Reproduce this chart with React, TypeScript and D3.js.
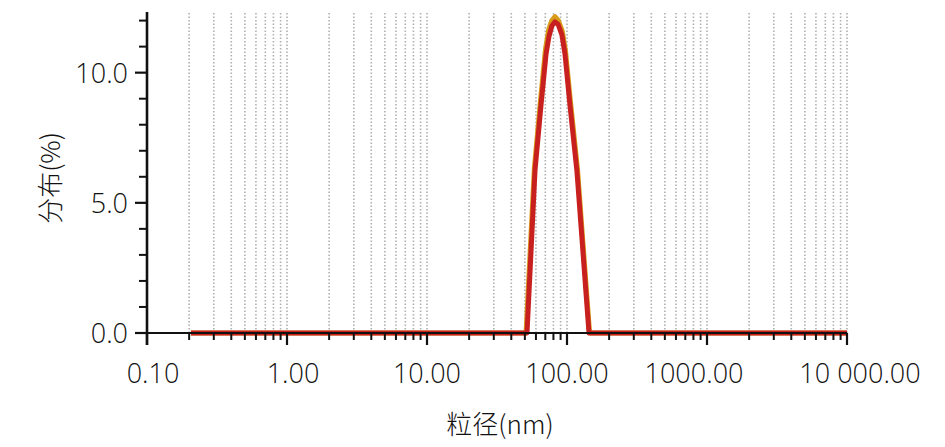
import React from "react";
import * as d3 from "d3";

// Particle size (nm) and distribution (%) for the two overlaid measurements
const sizesA = [0.206, 51.0, 58.5, 64.6, 70.2, 74.0, 77.8, 82.1, 86.8, 92.5, 97.5, 105.8, 118.8, 145.0, 10000];
const valuesA = [0, 0, 6.35, 8.9, 10.9, 11.65, 12.0, 12.15, 12.0, 11.6, 10.85, 8.9, 6.3, 0, 0];
const sizesB = [0.206, 51.8, 59.1, 65.2, 70.8, 74.4, 78.0, 82.1, 86.5, 92.0, 96.8, 105.0, 117.8, 143.6, 10000];
const valuesB = [0, 0, 6.25, 8.75, 10.7, 11.4, 11.8, 11.95, 11.85, 11.45, 10.7, 8.75, 6.2, 0, 0];

const xMajorTicks = [0.1, 1, 10, 100, 1000, 10000];
const xTickLabels = ["0.10", "1.00", "10.00", "100.00", "1000.00", "10 000.00"];
const xLabelShift = [6, 6, 0, 0, -13, 13];
const yMajorTicks = [0, 5, 10];
const yTickLabels = ["0.0", "5.0", "10.0"];
const yMinorTicks = [1, 2, 3, 4, 6, 7, 8, 9, 11, 12];

const W = 945;
const H = 447;

export default function App() {
  const x = d3.scaleLog().domain([0.1, 10000]).range([147, 847]);
  const y = d3.scaleLinear().domain([0, 12.33]).range([333, 12]);

  const minors: number[] = [];
  for (let e = -1; e < 4; e++) {
    for (let m = 2; m <= 9; m++) minors.push(m * Math.pow(10, e));
  }
  const grid = [...minors, ...xMajorTicks.filter((t) => t > 0.1)];

  const line = d3
    .line<[number, number]>()
    .x((d) => x(d[0]))
    .y((d) => y(d[1]))
    .curve(d3.curveLinear);

  const dataA = sizesA.map((s, i) => [s, valuesA[i]] as [number, number]);
  const dataB = sizesB.map((s, i) => [s, valuesB[i]] as [number, number]);

  const tickFont = "'Open Sans', 'DejaVu Sans', sans-serif";
  const cjkFont = "'Noto Sans CJK SC', 'Noto Sans', sans-serif";

  return (
    <svg
      width={W}
      height={H}
      style={{ position: "absolute", left: 0, top: 0, background: "#fff" }}
    >
      <rect x={0} y={0} width={W} height={H} fill="#fff" />
      {/* gridlines */}
      {grid.map((g, i) => (
        <line
          key={"g" + i}
          x1={x(g)}
          x2={x(g)}
          y1={y(0)}
          y2={13}
          stroke="#b0b0b0"
          strokeWidth={1.6}
          strokeDasharray="1.5,2"
        />
      ))}
      {/* series */}
      <path d={line(dataA) || ""} fill="none" stroke="#d89b1a" strokeWidth={5} strokeLinejoin="round" />
      <path d={line(dataB) || ""} fill="none" stroke="#c8201f" strokeWidth={5} strokeLinejoin="round" />

      {/* x axis */}
      <line x1={x(0.1)} x2={x(10000)} y1={y(0)} y2={y(0)} stroke="#111" strokeWidth={2} />
      {minors.map((t, i) => (
        <line key={"xm" + i} x1={x(t)} x2={x(t)} y1={y(0)} y2={y(0) + 7} stroke="#111" strokeWidth={2} />
      ))}
      {xMajorTicks.map((t, i) => (
        <line key={"xM" + i} x1={x(t)} x2={x(t)} y1={y(0)} y2={y(0) + 12} stroke="#111" strokeWidth={2.2} />
      ))}
      {xMajorTicks.map((t, i) => (
        <text
          key={"xl" + i}
          x={x(t) + xLabelShift[i]}
          y={383}
          textAnchor="middle"
          fontFamily={tickFont}
          fontSize={27}
          fontWeight={300}
          fill="#111"
        >
          {xTickLabels[i]}
        </text>
      ))}

      {/* y axis */}
      <line x1={147} x2={147} y1={12} y2={y(0) + 12} stroke="#111" strokeWidth={2.6} />
      {yMinorTicks.map((t, i) => (
        <line key={"ym" + i} x1={147 - 8} x2={147} y1={y(t)} y2={y(t)} stroke="#111" strokeWidth={2} />
      ))}
      {yMajorTicks.map((t, i) => (
        <line key={"yM" + i} x1={147 - 12} x2={147} y1={y(t)} y2={y(t)} stroke="#111" strokeWidth={2.2} />
      ))}
      {yMajorTicks.map((t, i) => (
        <text
          key={"yl" + i}
          x={128}
          y={y(t) + 10}
          textAnchor="end"
          fontFamily={tickFont}
          fontSize={27}
          fontWeight={300}
          fill="#111"
        >
          {yTickLabels[i]}
        </text>
      ))}

      {/* axis titles */}
      <text x={500} y={434} textAnchor="middle" fontFamily={cjkFont} fontSize={26} fontWeight={300} fill="#111">
        粒径(nm)
      </text>
      <text
        transform="translate(48,178) rotate(-90)"
        textAnchor="middle"
        dominantBaseline="central"
        fontFamily={cjkFont}
        fontSize={26}
        fontWeight={300}
        fill="#111"
      >
        分布(%)
      </text>
    </svg>
  );
}
